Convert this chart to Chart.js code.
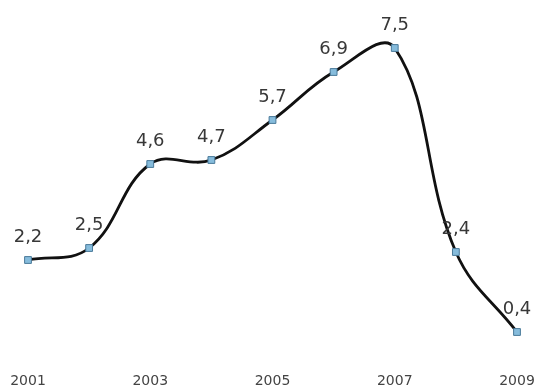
<!DOCTYPE html>
<html lang="en">
<head>
    <meta charset="UTF-8">
    <title>Growth 2001-2009</title>
    <script src="https://cdn.jsdelivr.net/npm/chart.js"></script>
    <style>
        body {
            margin: 0;
            padding: 0;
            background: #ffffff;
        }

        #chart-box {
            width: 537px;
            height: 389px;
        }
    </style>
</head>
<body>

<div id="chart-box">
    <canvas id="myChart"></canvas>
</div>

<script>
    const years = ["2001", "2002", "2003", "2004", "2005", "2006", "2007", "2008", "2009"];
    const values = [2.2, 2.5, 4.6, 4.7, 5.7, 6.9, 7.5, 2.4, 0.4];

    // Value labels above each point, with a decimal comma
    const valueLabels = {
        id: "valueLabels",
        afterDatasetsDraw(chart) {
            const ctx = chart.ctx;
            const meta = chart.getDatasetMeta(0);
            ctx.save();
            ctx.font = "18px 'DejaVu Sans', Verdana, sans-serif";
            ctx.fillStyle = "#383838";
            ctx.textAlign = "center";
            ctx.textBaseline = "alphabetic";
            meta.data.forEach((pt, i) => {
                const text = values[i].toFixed(1).replace(".", ",");
                ctx.fillText(text, pt.x, pt.y - 18);
            });
            ctx.restore();
        }
    };

    const ctx = document.getElementById("myChart").getContext("2d");

    new Chart(ctx, {
        type: "line",
        data: {
            labels: years,
            datasets: [{
                data: values,
                borderColor: "#111111",
                borderWidth: 2.8,
                tension: 0.4,
                fill: false,
                pointStyle: "rect",
                pointRadius: 4.8,
                pointBackgroundColor: "#86bcdc",
                pointBorderColor: "#4a7a9a",
                pointBorderWidth: 1
            }]
        },
        options: {
            responsive: true,
            maintainAspectRatio: false,
            animation: false,
            layout: {
                padding: { left: 28, right: 20, top: 28, bottom: 0 }
            },
            plugins: {
                legend: { display: false },
                tooltip: { enabled: false }
            },
            scales: {
                x: {
                    offset: false,
                    grid: { display: false },
                    border: { display: false },
                    ticks: {
                        autoSkip: false,
                        maxRotation: 0,
                        color: "#444444",
                        padding: 17,
                        font: { family: "'DejaVu Sans', Verdana, sans-serif", size: 14 },
                        callback: function (val, index) {
                            return index % 2 === 0 ? years[index] : "";
                        }
                    },
                    // fixed axis band so the plot area spans the full width
                    afterFit: function (scale) {
                        scale.height = 41;
                        scale.paddingLeft = 0;
                        scale.paddingRight = 0;
                    }
                },
                y: {
                    display: false,
                    min: 0,
                    max: 8
                }
            }
        },
        plugins: [valueLabels]
    });
</script>

</body>
</html>
